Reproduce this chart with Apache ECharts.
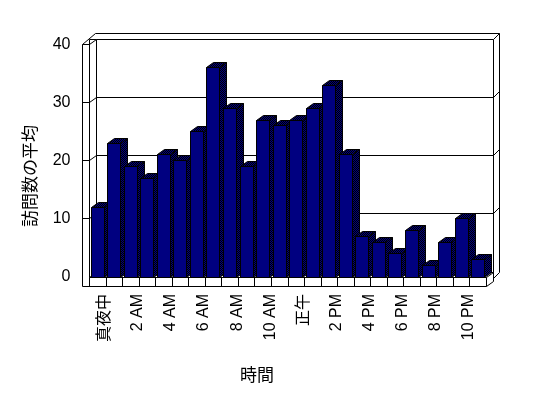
<!DOCTYPE html>
<html><head><meta charset="utf-8">
<script src="https://cdn.jsdelivr.net/npm/echarts@6/dist/echarts.min.js"></script>
<style>html,body{margin:0;padding:0;background:#fff}#c{width:548px;height:398px}</style>
</head><body><div id="c"></div>
<script>
const categories = ['真夜中','1 AM','2 AM','3 AM','4 AM','5 AM','6 AM','7 AM','8 AM','9 AM','10 AM','11 AM',
  '正午','1 PM','2 PM','3 PM','4 PM','5 PM','6 PM','7 PM','8 PM','9 PM','10 PM','11 PM'];
const visits = [12,23,19,17,21,20,25,36,29,19,27,26,27,29,33,21,7,6,4,8,2,6,10,3];
const yTicks = [0,10,20,30,40];
const yAxisName = '訪問数の平均';
const xAxisName = '時間';

const FONT = "'Liberation Sans','Noto Sans CJK JP',sans-serif";
const DX = -7, DY = 5;          // front plane offset from back plane
const cr = v => Math.floor(v) + 0.5;

const pc = document.createElement('canvas'); pc.width = 2; pc.height = 2;
const g = pc.getContext('2d');
g.fillStyle = '#000080'; g.fillRect(0,0,2,2);
g.fillStyle = '#000000'; g.fillRect(0,0,1,1); g.fillRect(1,1,1,1);
const dither = { image: pc, repeat: 'repeat' };

function line(x1,y1,x2,y2){
  return {type:'line', shape:{x1:cr(x1),y1:cr(y1),x2:cr(x2),y2:cr(y2)}, style:{stroke:'#000',lineWidth:1}};
}
function poly(pts, fill, z2){
  return {type:'polygon', z2:z2, shape:{points:pts.map(p=>[cr(p[0]),cr(p[1])])}, style:{fill:fill, stroke:'#000', lineWidth:1}};
}

function renderFrame(params, api){
  const N = categories.length;
  const band = api.size([1,0])[0];
  const xb0 = api.coord([0,0])[0] - band/2;
  const xb1 = api.coord([N-1,0])[0] + band/2;
  const yb = v => api.coord([0,v])[1];
  const yf = v => yb(v) + DY;
  const xf0 = xb0 + DX, xf1 = xb1 + DX;
  const xo = xf0 - 7;
  const floorB = yf(0) + 9;
  const top = yTicks[yTicks.length-1];
  const slabTop = yb(top) - 6;
  const slabR = xb1 + 6;
  const ch = [];
  // back wall
  ch.push(line(xb0, yb(top), xb1, yb(top)));
  ch.push(line(xb0, yb(top), xb0, yb(0)));
  ch.push(line(xb1, yb(top), xb1, yb(0)));
  ch.push(line(xb0, yb(0), xb1, yb(0)));
  yTicks.forEach(v => {
    if (v > 0 && v < top) ch.push(line(xb0, yb(v), xb1, yb(v)));
    // left wall
    if (v > 0) ch.push(line(xo, yf(v), xf0, yf(v)));
    ch.push(line(xf0, yf(v), xb0, yb(v)));
    // right slab
    if (v > 0) ch.push(line(xb1, yb(v), slabR, yb(v) - 6));
    ch.push({type:'text', style:{text:String(v), x:xo - 12, y:yf(v), align:'right', verticalAlign:'middle',
      fontSize:16, fontFamily:FONT, fill:'#000'}});
  });
  // outer outline
  ch.push(line(xo, floorB, xo, yf(top)));
  ch.push(line(xo, yf(top), xb0 - 1.5, slabTop));
  ch.push(line(xb0 - 1.5, slabTop, slabR, slabTop));
  ch.push(line(slabR, slabTop, slabR, yb(0)));
  ch.push(line(slabR, yb(0), xb1, yb(0) + 6));
  ch.push(line(xf0, yb(top), xb0, yb(top)));
  ch.push(line(xf0, yb(top), xf0, yf(0)));
  // floor
  ch.push(line(xf0, yf(0), xf1, yf(0)));
  ch.push(line(xo, floorB, xf1, floorB));
  for (let k = 0; k <= N; k++) ch.push(line(xf0 + k*band, yf(0), xf0 + k*band, floorB));
  ch.push(line(xf1, yf(0), xb1, yb(0)));
  ch.push(line(xf1, floorB, xb1, floorB - 5));
  ch.push(line(xb1, yb(0), xb1, floorB - 5));
  return {type:'group', children: ch};
}

function renderBar(params, api){
  const i = api.value(0), v = api.value(1);
  const band = api.size([1,0])[0];
  const c = api.coord([i, v]);
  const z = api.coord([i, 0]);
  const bl = c[0] - band/2 + 1.7, br = bl + 13;
  const t = c[1], b = z[1];
  const base = i * 3;
  return {type:'group', children:[
    poly([[br+DX, t+DY],[br, t],[br, b],[br+DX, b+DY]], dither, base),
    poly([[bl+DX, t+DY],[br+DX, t+DY],[br, t],[bl, t]], dither, base+1),
    poly([[bl+DX, t+DY],[br+DX, t+DY],[br+DX, b+DY],[bl+DX, b+DY]], '#000080', base+2)
  ]};
}

const chart = echarts.init(document.getElementById('c'), null, {renderer:'canvas'});
chart.setOption({
  animation:false,
  backgroundColor:'#fff',
  grid:{left:96.5, right:54.5, top:39.5, bottom:126},
  xAxis:{type:'category', data:categories, axisLine:{show:false}, axisTick:{show:false},
    axisLabel:{interval:1, rotate:90, margin:22, fontSize:16, fontFamily:FONT, color:'#000'}},
  yAxis:{type:'value', min:0, max:40, interval:10, axisLine:{show:false}, axisTick:{show:false},
    axisLabel:{show:false}, splitLine:{show:false}},
  graphic:[
    {type:'text', left:'center', top:0, style:{text:''}},
    {type:'text', x:31, y:176, rotation:Math.PI/2, style:{text:yAxisName, fontSize:17, fontFamily:FONT, fill:'#000', align:'center', verticalAlign:'middle'}},
    {type:'text', x:257, y:376, style:{text:xAxisName, fontSize:17, fontFamily:FONT, fill:'#000', align:'center', verticalAlign:'middle'}}
  ],
  series:[
    {type:'custom', coordinateSystem:'cartesian2d', clip:false, z:1, renderItem:renderFrame, data:[[0,0]], silent:true},
    {type:'custom', coordinateSystem:'cartesian2d', clip:false, z:2, renderItem:renderBar,
      data:visits.map((v,i)=>[i,v]), encode:{x:0,y:1}}
  ]
});
</script></body></html>
